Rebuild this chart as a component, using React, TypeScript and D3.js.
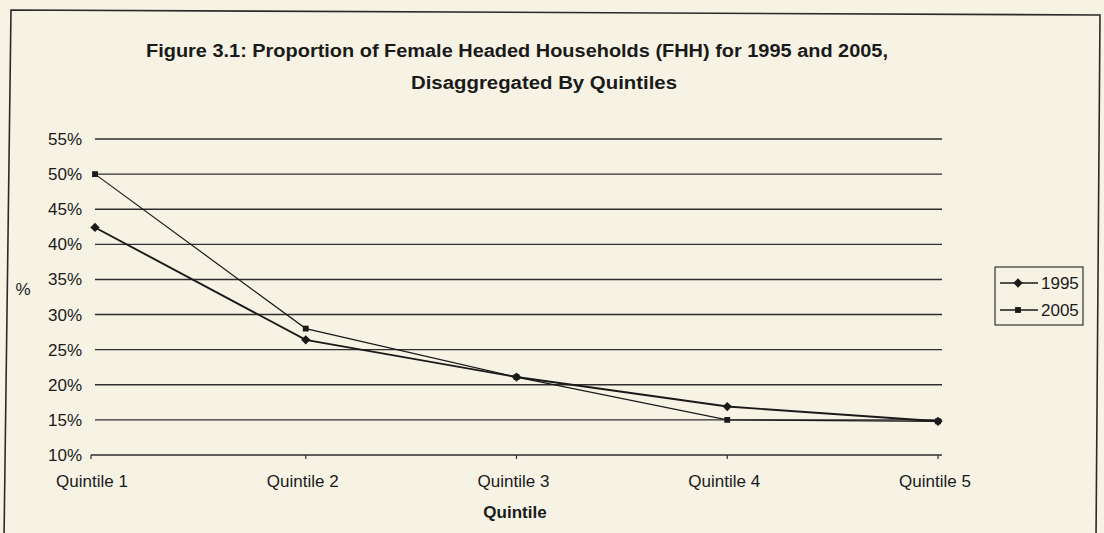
import React from "react";
import * as d3 from "d3";

const quintiles = ["Quintile 1", "Quintile 2", "Quintile 3", "Quintile 4", "Quintile 5"];
const fhh1995 = [42.4, 26.4, 21.1, 16.9, 14.8];
const fhh2005 = [50.0, 28.0, 21.1, 15.0, 14.8];
const yTicks = [10, 15, 20, 25, 30, 35, 40, 45, 50, 55];
const seriesNames = ["1995", "2005"];
const titleLines = [
  "Figure 3.1: Proportion of Female Headed Households (FHH) for 1995 and 2005,",
  "Disaggregated By Quintiles",
];

const W = 1104;
const H = 533;
const FONT = "'Liberation Sans', Arial, sans-serif";
const INK = "#1a1a1a";
const SX = 1.0;

function SText({ x, y, anchor = "start", size = 17, weight = "normal", children }: any) {
  return (
    <text
      transform={`translate(${x},${y}) scale(${SX},1)`}
      textAnchor={anchor}
      fontSize={size}
      fontWeight={weight}
      fontFamily={FONT}
      fill={INK}
    >
      {children}
    </text>
  );
}

export default function App() {
  const x = d3.scalePoint<string>().domain(quintiles).range([95, 938]);
  const y = d3.scaleLinear().domain([10, 55]).range([455, 139]);

  const line = d3
    .line<number>()
    .x((_, i) => x(quintiles[i]) as number)
    .y((d) => y(d));

  const diamond = d3.symbol().type(d3.symbolDiamond2).size(55)();
  const square = d3.symbol().type(d3.symbolSquare).size(34)();

  return (
    <svg
      width={W}
      height={H}
      style={{ position: "absolute", left: 0, top: 0, background: "#f6f3e5" }}
    >
      <rect x={0} y={0} width={W} height={H} fill="#f6f3e5" />
      {/* frame */}
      <path d="M4,540 L11,10 L1100,15 L1096,540" fill="none" stroke="#2a2a2a" strokeWidth={1.6} />

      {/* title */}
      <text x={146} y={57} fontSize={18} fontWeight="bold" fontFamily={FONT} fill={INK}
        textLength={742} lengthAdjust="spacingAndGlyphs">{titleLines[0]}</text>
      <text x={411} y={89} fontSize={18} fontWeight="bold" fontFamily={FONT} fill={INK}
        textLength={266} lengthAdjust="spacingAndGlyphs">{titleLines[1]}</text>

      {/* gridlines */}
      {yTicks.filter((t) => t > 10).map((t) => (
        <line key={t} x1={95} x2={942} y1={y(t)} y2={y(t)} stroke="#2e2e2e" strokeWidth={1.4} />
      ))}
      {/* x axis */}
      <line x1={91} x2={942} y1={y(10)} y2={y(10)} stroke="#2e2e2e" strokeWidth={1.4} />
      <line x1={91} x2={91} y1={y(10)} y2={y(10) + 4} stroke="#2e2e2e" strokeWidth={1.2} />
      {quintiles.slice(1).map((q) => (
        <line key={q} x1={x(q)} x2={x(q)} y1={y(10)} y2={y(10) + 4} stroke="#2e2e2e" strokeWidth={1.2} />
      ))}

      {/* y tick labels */}
      {yTicks.map((t) => (
        <SText key={t} x={82} y={y(t) + 6} anchor="end">{`${t}%`}</SText>
      ))}
      <SText x={23} y={295} anchor="middle">%</SText>

      {/* x tick labels */}
      {quintiles.map((q) => (
        <SText key={q} x={(x(q) as number) - 3} y={487} anchor="middle">{q}</SText>
      ))}
      <SText x={515} y={518} anchor="middle" weight="bold">Quintile</SText>

      {/* series */}
      <path d={line(fhh2005) || ""} fill="none" stroke={INK} strokeWidth={1.2} />
      <path d={line(fhh1995) || ""} fill="none" stroke={INK} strokeWidth={1.9} />
      {fhh1995.map((v, i) => (
        <path key={"a" + i} d={diamond || ""} transform={`translate(${x(quintiles[i])},${y(v)})`} fill={INK} />
      ))}
      {fhh2005.map((v, i) => (
        <path key={"b" + i} d={square || ""} transform={`translate(${x(quintiles[i])},${y(v)})`} fill={INK} />
      ))}

      {/* legend */}
      <rect x={995} y={267} width={88} height={58} fill="none" stroke="#333" strokeWidth={1.2} />
      {seriesNames.map((s, i) => {
        const ly = 283 + i * 27;
        return (
          <g key={s}>
            <line x1={1000} x2={1038} y1={ly} y2={ly} stroke={INK} strokeWidth={1.3} />
            <path d={(i === 0 ? diamond : square) || ""} transform={`translate(1018,${ly})`} fill={INK} />
            <SText x={1041} y={ly + 6}>{s}</SText>
          </g>
        );
      })}
    </svg>
  );
}
